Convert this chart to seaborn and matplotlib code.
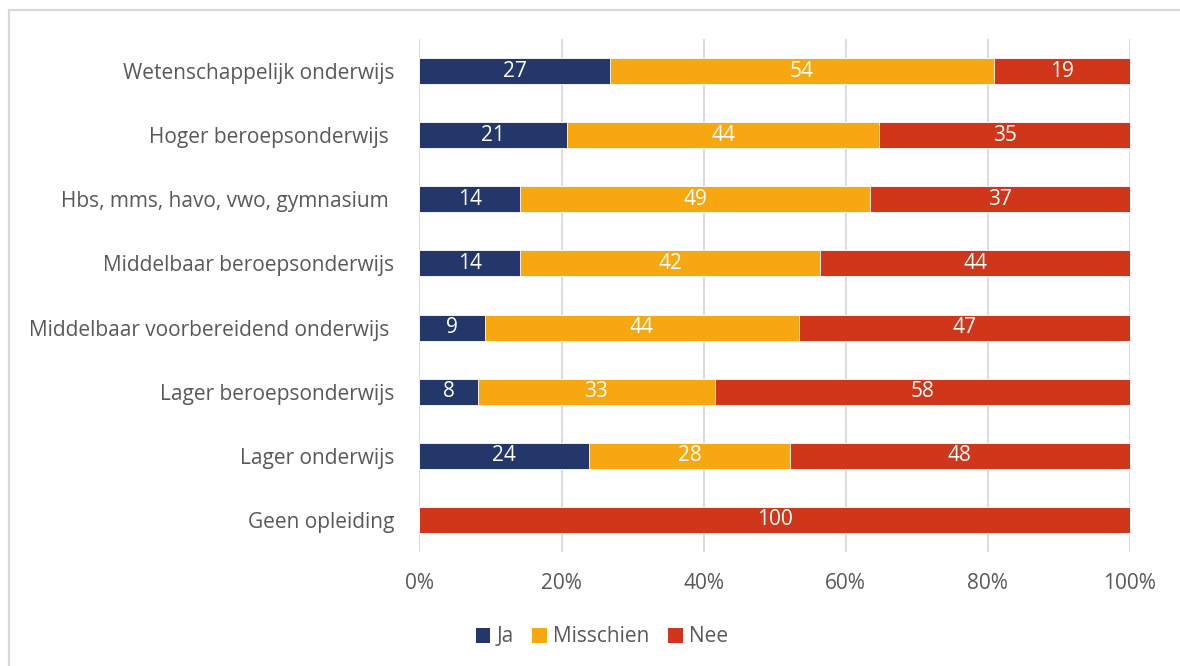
import matplotlib
matplotlib.use("Agg")
import matplotlib.pyplot as plt
import seaborn as sns
import numpy as np
import pandas as pd
from matplotlib.patches import Rectangle, Patch
from matplotlib.ticker import PercentFormatter

categories = [
    "Wetenschappelijk onderwijs",
    "Hoger beroepsonderwijs ",
    "Hbs, mms, havo, vwo, gymnasium ",
    "Middelbaar beroepsonderwijs",
    "Middelbaar voorbereidend onderwijs ",
    "Lager beroepsonderwijs",
    "Lager onderwijs",
    "Geen opleiding",
]
ja = [26.8, 20.8, 14.2, 14.1, 9.2, 8.2, 23.9, 0.0]
misschien = [54.1, 43.9, 49.2, 42.3, 44.2, 33.4, 28.2, 0.0]
nee = [19.1, 35.3, 36.6, 43.6, 46.6, 58.4, 47.9, 100.0]
series_names = ["Ja", "Misschien", "Nee"]
colors = ["#24376B", "#F7A70F", "#D0361A"]

sns.set_theme(style="white")
plt.rcParams["font.family"] = ["Open Sans", "DejaVu Sans"]

df = pd.DataFrame({"cat": categories, "Ja": ja, "Misschien": misschien, "Nee": nee})
df["c1"] = df["Ja"]
df["c2"] = df["Ja"] + df["Misschien"]
df["c3"] = df["c2"] + df["Nee"]

fig = plt.figure(figsize=(11.8, 6.66), dpi=100)
ax = fig.add_axes([419.5 / 1180, 1 - 552 / 666, (1130 - 419.5) / 1180, 513 / 666])

for col, color in zip(["c3", "c2", "c1"], colors[::-1]):
    sns.barplot(data=df, x=col, y="cat", color=color, orient="h", width=0.405,
                ax=ax, saturation=1, edgecolor="white", linewidth=0.6)

# value labels
for i, row in df.iterrows():
    starts = [0, row["c1"], row["c2"]]
    vals = [row["Ja"], row["Misschien"], row["Nee"]]
    for s, v in zip(starts, vals):
        if v > 0:
            ax.text(s + v / 2, i, f"{v:.0f}", ha="center", va="center",
                    color="white", fontsize=15)

ax.set_xlim(0, 100)
ax.set_ylim(7.5, -0.5)
ax.xaxis.set_major_formatter(PercentFormatter(100, decimals=0))
ax.set_xticks([0, 20, 40, 60, 80, 100])
ax.grid(axis="x", color="#D9D9D9", linewidth=1.3)
ax.set_axisbelow(True)
for sp in ax.spines.values():
    sp.set_visible(False)
ax.set_xlabel("")
ax.set_ylabel("")
ax.tick_params(axis="both", length=0, labelsize=15, labelcolor="#595959")
ax.tick_params(axis="x", pad=15)
ax.tick_params(axis="y", pad=18)

handles = [Patch(facecolor=c, edgecolor="none", label=n) for c, n in zip(colors, series_names)]
fig.legend(handles=handles, loc="center", bbox_to_anchor=(602 / 1180, 1 - 637 / 666),
           ncol=3, frameon=False, fontsize=15, labelcolor="#595959",
           handlelength=0.7, handleheight=0.7, handletextpad=0.3, columnspacing=0.9)

fig.patches.append(Rectangle((8.5 / 1180, -0.1), 1.2, 1 - 9.5 / 666 + 0.1,
                             transform=fig.transFigure, fill=False,
                             edgecolor="#D9D9D9", linewidth=1.6, zorder=0))

fig.savefig("out.png", dpi=100, facecolor="white")
